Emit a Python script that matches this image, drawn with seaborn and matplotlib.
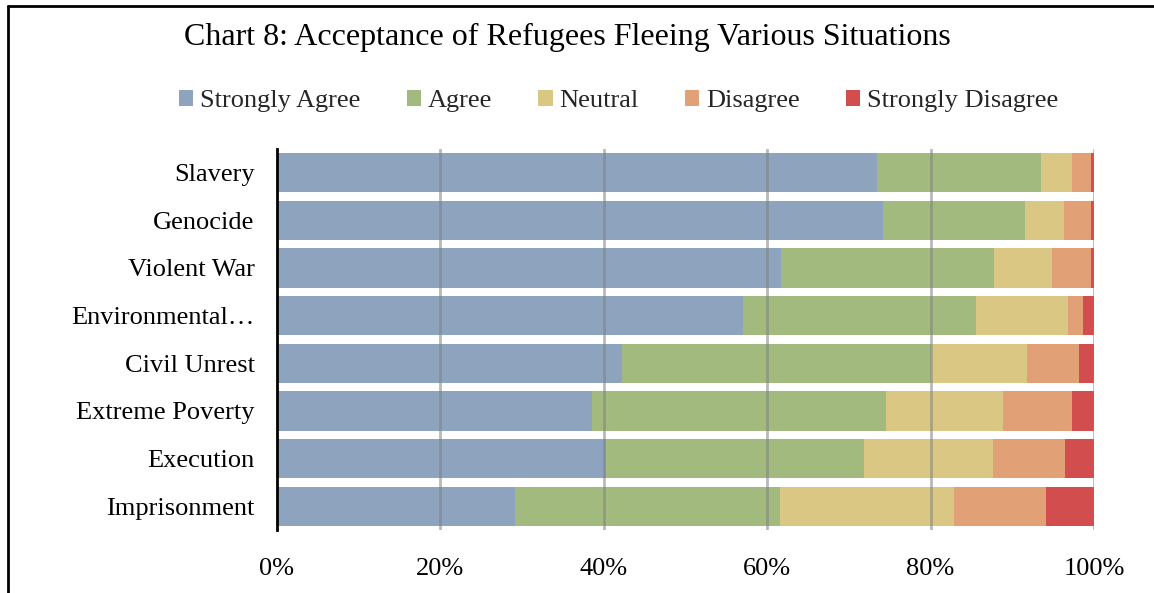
import matplotlib
matplotlib.use("Agg")
import matplotlib.pyplot as plt
from matplotlib.patches import Patch
from matplotlib.lines import Line2D
import seaborn as sns
import pandas as pd
import numpy as np

# Survey responses, percent of respondents per situation
situations = ["Slavery", "Genocide", "Violent War", "Environmental Disaster",
              "Civil Unrest", "Extreme Poverty", "Execution", "Imprisonment"]
tick_labels = ["Slavery", "Genocide", "Violent War", "Environmental\u2026",
               "Civil Unrest", "Extreme Poverty", "Execution", "Imprisonment"]
responses = ["Strongly Agree", "Agree", "Neutral", "Disagree", "Strongly Disagree"]
strongly_agree = [73.5, 74.2, 61.7, 57.1, 42.2, 38.6, 40.3, 29.1]
agree = [20.0, 17.3, 26.1, 28.4, 37.9, 35.9, 31.5, 32.5]
neutral = [3.8, 4.8, 7.1, 11.3, 11.7, 14.4, 15.8, 21.3]
disagree = [2.3, 3.3, 4.7, 1.8, 6.4, 8.4, 8.8, 11.2]
strongly_disagree = [0.4, 0.4, 0.4, 1.4, 1.8, 2.7, 3.6, 5.9]
colors = ["#8EA4BE", "#A2BA7D", "#DBC784", "#E2A077", "#D24D4E"]

sns.set_theme(style="white")
plt.rcParams["font.family"] = ["Liberation Serif", "DejaVu Serif"]

series = [strongly_agree, agree, neutral, disagree, strongly_disagree]
wide = pd.DataFrame(dict(zip(responses, series)), index=situations)
shares = wide.div(wide.sum(axis=1), axis=0) * 100
cumulative = shares.cumsum(axis=1)

fig = plt.figure(figsize=(11.54, 5.93), dpi=100)
ax = fig.add_axes([0.240, 0.106, 0.708, 0.643])

# Stacked bars: draw the longest cumulative segment first, shorter ones on top
for resp, col in reversed(list(zip(responses, colors))):
    df = pd.DataFrame({"situation": situations, "value": cumulative[resp].values})
    sns.barplot(data=df, x="value", y="situation", orient="h", color=col,
                saturation=1, width=0.83, linewidth=0, ax=ax, zorder=2)

ax.set_xlim(0, 100)
ax.set_ylim(7.5, -0.5)
ax.set_xticks([0, 20, 40, 60, 80, 100])
ax.set_xticklabels([f"{v}%" for v in [0, 20, 40, 60, 80, 100]], fontsize=19)
ax.set_yticks(range(len(situations)))
ax.set_yticklabels(tick_labels, fontsize=19)
ax.tick_params(axis="x", length=0, pad=20, colors="black")
ax.tick_params(axis="y", length=0, pad=16, colors="black")
ax.set_xlabel("")
ax.set_ylabel("")
for s in ["top", "right", "bottom"]:
    ax.spines[s].set_visible(False)
ax.spines["left"].set_color("black")
ax.spines["left"].set_linewidth(2)
ax.spines["left"].set_zorder(5)

# Vertical gridlines drawn over the bars
for v in [20, 40, 60, 80, 100]:
    ax.axvline(v, color="#808080", alpha=0.55, lw=2, zorder=4)

fig.text(0.492, 0.937, "Chart 8: Acceptance of Refugees Fleeing Various Situations",
         ha="center", va="center", fontsize=23, color="black")

handles = [Patch(facecolor=c, edgecolor="none", label=r) for r, c in zip(responses, colors)]
fig.legend(handles=handles, loc="center", bbox_to_anchor=(0.536, 0.83), ncol=5,
           frameon=False, fontsize=19, handlelength=0.55, handleheight=0.55,
           handletextpad=0.25, columnspacing=1.75, borderaxespad=0, borderpad=0)

# Chart frame along the top and left edges
fig.add_artist(Line2D([0.0065, 0.0065], [0.0, 0.99], transform=fig.transFigure,
                      color="black", lw=2))
fig.add_artist(Line2D([0.0065, 1.0], [0.99, 0.99], transform=fig.transFigure,
                      color="black", lw=2))

fig.savefig("out.png", dpi=100, facecolor="white")
